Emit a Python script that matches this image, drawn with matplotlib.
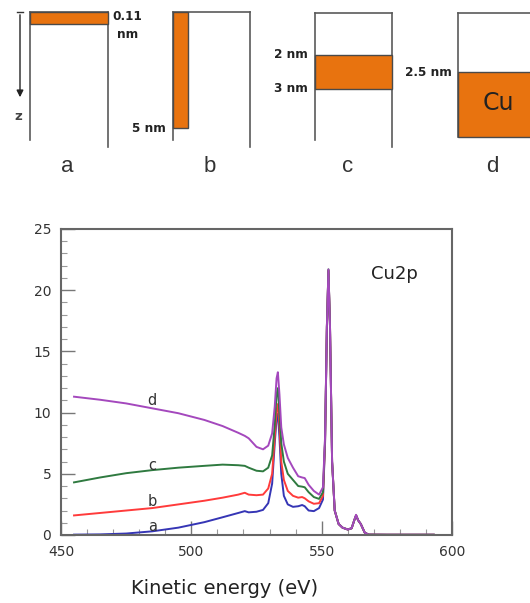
import matplotlib.pyplot as plt
from matplotlib.patches import Rectangle
from matplotlib.ticker import MultipleLocator

# Cu2p spectra, values (kinetic energy in eV)
energy = [455, 465, 475, 485, 495, 505, 512, 518, 520.5, 522, 525, 527.5, 529.5,
          531, 532, 532.7, 533.2, 533.8, 534.5, 535.5, 537, 539, 541, 542.5, 543.5,
          545, 547, 549, 550.5, 551.3, 552, 552.6, 553.2, 554, 555, 556.5, 558, 560,
          561.5, 562.5, 563.2, 564, 565, 566.5, 568, 575, 585, 593]

spec_a = [0.03, 0.05, 0.12, 0.3, 0.6, 1.05, 1.45, 1.8, 1.95, 1.85, 1.9, 2.05, 2.6,
          4.2, 7.5, 9.5, 9.9, 8.0, 5.0, 3.2, 2.5, 2.3, 2.35, 2.45, 2.35,
          2.0, 1.95, 2.2, 2.9, 7.5, 17, 21.6, 17, 6, 2.0, 0.9, 0.6, 0.45,
          0.55, 1.2, 1.6, 1.2, 0.9, 0.2, 0.03, 0.02, 0.02, 0.02]
spec_b = [1.6, 1.8, 2.0, 2.2, 2.5, 2.8, 3.05, 3.3, 3.45, 3.3, 3.25, 3.3, 3.8,
          5.0, 8.0, 10.2, 10.7, 9.0, 6.0, 4.5, 3.6, 3.2, 3.05, 3.1, 3.0,
          2.75, 2.55, 2.6, 3.2, 7.6, 17, 21.6, 17, 6, 2.0, 0.9, 0.6, 0.45,
          0.55, 1.2, 1.6, 1.2, 0.9, 0.2, 0.03, 0.02, 0.02, 0.02]
spec_c = [4.3, 4.7, 5.05, 5.3, 5.5, 5.65, 5.75, 5.7, 5.65, 5.5, 5.25, 5.2, 5.5,
          6.5, 9.0, 11.5, 12.0, 10.0, 7.5, 6.0, 5.0, 4.5, 4.0, 3.95, 3.9,
          3.5, 3.1, 2.95, 3.5, 7.8, 17, 21.7, 17, 6, 2.0, 0.9, 0.6, 0.45,
          0.55, 1.2, 1.6, 1.2, 0.9, 0.2, 0.03, 0.02, 0.02, 0.02]
spec_d = [11.3, 11.05, 10.75, 10.35, 9.95, 9.4, 8.9, 8.35, 8.1, 7.9, 7.2, 7.0, 7.3,
          8.3, 10.5, 12.8, 13.3, 11.5, 8.8, 7.4, 6.3, 5.5, 4.8, 4.7, 4.65,
          4.1, 3.6, 3.3, 3.9, 8.0, 17, 21.7, 17, 6, 2.0, 0.9, 0.6, 0.45,
          0.55, 1.2, 1.65, 1.2, 0.9, 0.2, 0.03, 0.02, 0.02, 0.02]

curve_names = ['a', 'b', 'c', 'd']
curve_colors = ['#3535b5', '#ff3b3b', '#2f7a40', '#a448bd']
label_x = [485, 485, 485, 485]
label_y = [0.68, 2.7, 5.7, 11.0]

# sample sketches above the spectra
panel_names = ['a', 'b', 'c', 'd']
depth_labels = [['0.11', 'nm'], ['5 nm'], ['2 nm', '3 nm'], ['2.5 nm']]

orange = '#e8730f'
edge = '#5a5a5a'

fig = plt.figure(figsize=(5.30, 6.03), dpi=100)

# overlay in pixel units for the sketches
top = fig.add_axes([0, 0, 1, 1])
top.set_xlim(0, 530)
top.set_ylim(603, 0)
top.axis('off')


def box(x0, x1, y0, yl, yr):
    top.plot([x0, x0], [y0, yl], color=edge, lw=1.2)
    top.plot([x1, x1], [y0, yr], color=edge, lw=1.2)
    top.plot([x0, x1], [y0, y0], color=edge, lw=1.2)


def layer(x0, x1, y0, y1):
    top.add_patch(Rectangle((x0, y0), x1 - x0, y1 - y0, facecolor=orange,
                            edgecolor='#4a4a4a', lw=1.0, zorder=3))


bold = dict(fontsize=8.7, fontweight='bold', color='#222222', family='DejaVu Sans')

# a
box(30, 108, 12, 140, 147)
layer(30, 108, 12, 24)
top.text(112, 16, depth_labels[0][0], ha='left', va='center', **bold)
top.text(117, 34, depth_labels[0][1], ha='left', va='center', **bold)
top.plot([17, 23], [12, 12], color='#333333', lw=1)
top.annotate('', xy=(20, 100), xytext=(20, 12),
             arrowprops=dict(arrowstyle='-|>', color='#222222', lw=1, mutation_scale=10))
top.text(18, 116, 'z', ha='center', va='center', fontsize=9.5, color='#444444',
         fontweight='bold')

# b
box(173, 250, 12, 140, 147)
layer(173, 188, 12, 128)
top.text(166, 128, depth_labels[1][0], ha='right', va='center', **bold)

# c
box(315, 392, 13, 140, 147)
layer(315, 392, 55, 89)
top.text(308, 55, depth_labels[2][0], ha='right', va='center', **bold)
top.text(308, 89, depth_labels[2][1], ha='right', va='center', **bold)

# d
box(458, 535, 13, 137, 137)
layer(458, 535, 72, 137)
top.text(452, 73, depth_labels[3][0], ha='right', va='center', **bold)
top.text(498, 103, 'Cu', ha='center', va='center', fontsize=17,
         color='#222222', family='DejaVu Sans')

for name, px in zip(panel_names, [67, 210, 348, 492]):
    top.text(px, 167, name, ha='center', va='center', fontsize=16,
             color='#333333', family='Liberation Sans')

# spectra
ax = fig.add_axes([61 / 530, 1 - 535 / 603, (452 - 61) / 530, (535 - 229) / 603])
curves = [spec_a, spec_b, spec_c, spec_d]
for name, ys, col in zip(curve_names, curves, curve_colors):
    ax.plot(energy, ys, color=col, lw=1.4)
for name, lx, ly in zip(curve_names, label_x, label_y):
    ax.text(lx, ly, name, ha='center', va='center', fontsize=10.5, color='#333333',
            family='DejaVu Sans')

ax.text(578, 21.3, 'Cu2p', ha='center', va='center', fontsize=13, color='#222222')

ax.set_xlim(450, 600)
ax.set_ylim(0, 25)
ax.set_xticks([450, 500, 550, 600])
ax.set_yticks([0, 5, 10, 15, 20, 25])
ax.xaxis.set_minor_locator(MultipleLocator(10))
ax.yaxis.set_minor_locator(MultipleLocator(1))
ax.tick_params(which='major', direction='in', length=10, width=1, color='#777777',
               labelsize=10, labelcolor='#333333', pad=7)
ax.tick_params(which='minor', direction='in', length=4, width=0.8, color='#999999')
for sp in ax.spines.values():
    sp.set_color('#666666')
    sp.set_linewidth(1.5)

fig.text(225 / 530, 1 - 588 / 603, 'Kinetic energy (eV)', ha='center', va='center',
         fontsize=14, color='#222222')

fig.savefig('out.png', dpi=100)
